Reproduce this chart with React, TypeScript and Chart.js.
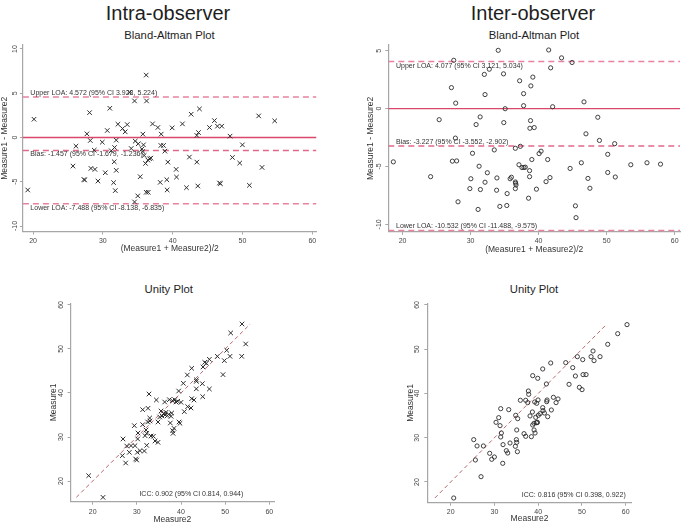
import React, { useEffect, useRef } from 'react';
import { Chart, registerables } from 'chart.js';

Chart.register(...registerables);

const FONT = "'Liberation Sans', Arial, Helvetica, sans-serif";

// ---------- Intra-observer Bland-Altman ----------
const intraBAMean = [19.24, 20.14, 25.72, 26.15, 27.39, 27.3, 27.72, 28.1, 28.2, 28.29, 28.77, 28.87, 29.3, 29.92, 30.35, 30.63, 31.0, 31.2, 31.54, 31.63, 31.68, 31.78, 31.92, 31.92, 32.16, 32.82, 33.2, 33.49, 33.83, 34.06, 34.54, 34.54, 34.64, 35.0, 35.07, 35.35, 35.6, 35.73, 35.73, 35.82, 35.92, 36.11, 36.21, 36.26, 36.21, 36.5, 36.45, 36.69, 36.88, 37.12, 37.88, 38.36, 38.21, 38.31, 38.69, 38.88, 39.31, 39.16, 39.21, 39.93, 40.5, 40.55, 41.4, 41.98, 42.4, 42.65, 43.46, 43.46, 43.6, 43.7, 43.84, 45.27, 45.98, 46.41, 47.03, 46.7, 46.84, 48.22, 48.56, 49.6, 49.99, 50.99, 52.32, 52.8, 54.61];
const intraBADiff = [-5.93, 2.06, -3.23, -0.98, -4.8, -4.75, 0.41, 2.81, -0.34, -3.49, -1.43, -3.6, -4.92, -0.53, -3.98, 0.79, 3.3, -1.5, -5.1, -2.74, -1.13, -6.0, -0.3, -3.71, 1.5, 1.01, 0.64, 1.46, 5.1, -1.24, 4.13, -7.28, -0.41, -6.6, -0.71, -4.43, -1.31, -1.58, 0.38, -0.83, -2.03, -2.93, 7.05, 4.13, -6.19, -6.19, -2.55, -2.4, -2.33, 1.54, 1.13, 0.38, -5.07, -0.9, -0.9, -1.54, -2.78, -4.77, -5.93, 1.09, -3.6, -4.47, 1.54, -5.67, -2.21, 2.63, 0.23, -2.78, -5.48, 0.56, 3.23, 1.13, 1.91, 1.28, 1.28, -5.14, -5.22, 0.15, -2.25, -2.89, -0.83, -5.4, 2.44, -3.38, 1.88];
// [estimate, CI low, CI high]
const intraUpperLOA = [4.572, 3.928, 5.224];
const intraBias = [-1.457, -1.679, -1.236];
const intraLowerLOA = [-7.488, -8.138, -6.835];

// ---------- Inter-observer Bland-Altman ----------
const interBAMean = [18.64, 24.12, 25.38, 27.18, 27.52, 27.32, 27.95, 27.81, 27.76, 28.15, 29.89, 30.04, 30.28, 30.81, 31.1, 31.25, 31.4, 31.44, 32.02, 32.12, 32.12, 32.46, 32.75, 33.48, 33.87, 33.82, 34.06, 34.3, 34.84, 34.88, 35.08, 35.32, 35.37, 35.81, 36.0, 36.58, 36.58, 36.62, 36.68, 36.58, 37.21, 37.11, 37.31, 37.55, 37.79, 37.79, 37.84, 38.04, 38.52, 38.67, 38.67, 38.72, 38.81, 38.86, 39.0, 39.15, 39.35, 39.68, 40.07, 40.36, 41.09, 41.33, 41.48, 41.67, 41.77, 42.06, 43.37, 44.63, 44.92, 45.41, 45.5, 46.28, 46.67, 46.96, 47.25, 47.54, 48.7, 48.94, 50.16, 50.16, 51.18, 51.27, 53.55, 55.93, 57.92];
const interBADiff = [-4.6, -5.88, -0.96, 1.81, 4.17, -4.54, -4.52, 0.47, -2.55, -8.05, -6.91, -6.06, -3.86, -1.38, -8.71, -4.98, -0.72, -6.99, 2.95, 1.21, -6.36, -5.54, 3.4, -3.57, -5.99, -7.05, 5.03, -8.45, 3.0, -1.21, -0.01, -8.37, -7.34, -6.06, -5.93, -3.43, -6.34, -6.45, -6.6, -6.91, 2.4, -4.85, -3.26, -5.09, 1.29, 0.25, -5.09, -5.06, -7.74, -5.36, -5.88, -1.7, -1.04, 1.96, -4.4, 2.72, -1.64, -6.96, -3.89, -3.68, -6.31, -4.4, 5.06, -5.96, 3.52, 0.16, 4.38, -5.17, 3.98, -8.4, -9.42, -4.68, 0.58, -2.18, -6.03, -6.88, -0.75, -2.75, -3.95, -5.52, -3.03, -5.91, -4.85, -4.68, -4.8];
const interUpperLOA = [4.077, 3.121, 5.034];
const interBias = [-3.227, -3.552, -2.902];
const interLowerLOA = [-10.532, -11.488, -9.575];

// ---------- Intra-observer unity ----------
const intraM2 = [19.09, 22.34, 26.72, 26.87, 27.47, 27.7, 28.3, 28.68, 29.43, 29.58, 29.74, 29.96, 30.11, 30.19, 30.26, 30.72, 31.32, 31.32, 31.7, 31.85, 32.08, 32.23, 32.23, 32.45, 32.53, 32.75, 32.91, 32.98, 33.21, 33.74, 34.11, 34.42, 34.79, 34.79, 35.17, 35.47, 35.7, 36.08, 36.3, 36.38, 36.6, 36.91, 37.21, 37.36, 37.58, 37.74, 37.89, 38.04, 38.11, 38.19, 38.42, 38.57, 38.87, 39.25, 39.47, 39.55, 39.77, 40.0, 40.53, 40.75, 41.43, 41.5, 42.26, 42.42, 42.42, 42.94, 43.47, 43.47, 43.47, 44.83, 44.91, 44.98, 45.36, 45.74, 46.42, 46.42, 48.23, 49.51, 49.81, 50.34, 51.09, 51.25, 53.74, 53.81, 54.64];
const intraM1 = [21.21, 16.29, 25.76, 29.55, 24.09, 27.95, 26.52, 28.03, 32.58, 28.03, 25.0, 24.77, 26.52, 29.55, 30.91, 26.89, 32.8, 36.21, 26.82, 30.3, 31.59, 28.1, 30.83, 33.41, 36.52, 39.77, 34.32, 33.64, 30.23, 30.15, 29.09, 38.41, 28.79, 33.41, 34.55, 35.91, 34.77, 35.38, 37.95, 35.0, 35.61, 34.85, 35.15, 38.48, 33.18, 34.7, 35.45, 38.26, 31.44, 30.83, 31.97, 38.48, 37.95, 38.11, 40.45, 33.41, 33.11, 37.88, 42.2, 35.76, 44.09, 36.89, 36.59, 45.61, 38.71, 38.41, 42.64, 43.0, 40.94, 42.12, 39.17, 45.91, 46.97, 46.74, 47.65, 40.91, 48.33, 44.17, 47.35, 49.7, 48.33, 53.64, 48.33, 55.68, 51.14];
const intraICC = [0.902, 0.814, 0.944];

// ---------- Inter-observer unity ----------
const interM2 = [20.69, 25.26, 25.64, 26.02, 26.93, 27.47, 28.91, 29.37, 29.98, 30.36, 30.97, 31.28, 31.43, 31.43, 31.58, 31.89, 31.96, 32.72, 33.03, 33.26, 33.56, 34.86, 35.01, 35.09, 35.09, 35.24, 35.31, 34.78, 35.92, 36.76, 37.14, 37.14, 37.6, 37.75, 37.83, 38.13, 38.44, 38.67, 38.74, 38.74, 39.05, 39.05, 39.2, 39.28, 39.43, 39.58, 39.73, 39.66, 39.89, 39.81, 39.96, 40.04, 40.42, 41.03, 41.03, 41.1, 41.41, 41.87, 41.94, 42.02, 42.17, 42.86, 43.01, 43.47, 44.08, 44.53, 46.29, 47.05, 47.89, 48.5, 48.95, 49.41, 50.02, 50.17, 50.25, 50.93, 52.08, 52.53, 52.76, 54.13, 55.89, 58.17, 60.3];
const interM1 = [16.38, 29.57, 24.97, 28.14, 21.2, 28.14, 26.48, 25.12, 25.65, 33.48, 34.54, 32.73, 36.57, 30.17, 31.07, 24.22, 28.44, 27.08, 26.55, 36.35, 28.81, 35.07, 29.57, 31.75, 28.96, 26.85, 34.31, 28.06, 38.46, 30.92, 30.32, 38.46, 37.93, 40.56, 39.81, 34.92, 30.24, 35.82, 44.03, 32.88, 31.75, 33.26, 38.08, 31.07, 34.61, 33.41, 33.41, 37.78, 43.43, 33.48, 38.53, 35.07, 35.44, 45.54, 36.8, 36.12, 35.59, 42.15, 38.15, 38.53, 34.76, 46.89, 36.27, 39.13, 37.93, 38.76, 46.97, 42.07, 45.84, 43.95, 48.32, 41.39, 40.87, 47.65, 44.26, 44.26, 48.32, 49.6, 47.42, 48.32, 51.11, 53.52, 55.56];
const interICC = [0.816, 0.398, 0.922];

const baTicksIntraY = [-10, -5, 0, 5, 10];
const baTicksInterY = [-10, -5, 0, 5];
const axisTicks = [20, 30, 40, 50, 60];
const unityTicksY = [20, 30, 40, 50, 60];

const AXIS = '#a6a6a6';
const TICK_COLOR = '#454545';
const MARK = '#2e2e2e';
const ZERO_COL = '#d9486b';
const BIAS_COL = '#e0688a';
const LOA_COL = '#e8829f';
const UNITY_COL = '#b9676a';

const fmt = (v: number) => v.toFixed(3);

type TextItem = { text: string; x: number; y: number; dy: number; align: CanvasTextAlign };

type PanelCfg = {
  left: number; top: number; w: number; h: number;
  padding: { left: number; top: number; right: number; bottom: number };
  yWidth: number; xHeight: number;
  xMin: number; xMax: number; yMin: number; yMax: number;
  xTicks: number[]; yTicks: number[];
  yTickPad: number; xTickPad: number; xTitlePad: number; yTitlePad: number;
  xTitle: string; yTitle: string;
  datasets: any[];
  texts: TextItem[];
};

function makeTextPlugin(items: TextItem[]) {
  return {
    id: 'panelText',
    afterDatasetsDraw(chart: any) {
      const { ctx } = chart;
      const xs = chart.scales.x;
      const ys = chart.scales.y;
      ctx.save();
      ctx.font = `7px ${FONT}`;
      ctx.fillStyle = '#333';
      ctx.textBaseline = 'middle';
      for (const t of items) {
        ctx.textAlign = t.align;
        ctx.fillText(t.text, xs.getPixelForValue(t.x), ys.getPixelForValue(t.y) + t.dy);
      }
      ctx.restore();
    },
  };
}

function pts(xs: number[], ys: number[]) {
  return xs.map((x, i) => ({ x, y: ys[i] }));
}

function hline(v: number, x0: number, x1: number, color: string, dash: number[], width: number) {
  return {
    data: [{ x: x0, y: v }, { x: x1, y: v }],
    showLine: true, borderColor: color, borderWidth: width, borderDash: dash,
    pointRadius: 0, fill: false,
  };
}

function markers(data: any[], style: string) {
  return style === 'x'
    ? { data, showLine: false, pointStyle: 'crossRot', pointRadius: 3.2, borderColor: MARK, borderWidth: 1, backgroundColor: 'transparent' }
    : { data, showLine: false, pointStyle: 'circle', pointRadius: 2.1, borderColor: MARK, borderWidth: 0.9, backgroundColor: 'transparent' };
}

function buildConfig(c: PanelCfg) {
  return {
    type: 'scatter',
    data: { datasets: c.datasets },
    options: {
      animation: false,
      responsive: false,
      events: [],
      layout: { padding: c.padding },
      plugins: { legend: { display: false }, tooltip: { enabled: false }, title: { display: false } },
      scales: {
        x: {
          type: 'linear', min: c.xMin, max: c.xMax, bounds: 'data',
          afterBuildTicks: (s: any) => { s.ticks = c.xTicks.map((v) => ({ value: v })); },
          afterFit: (s: any) => { s.height = c.xHeight; s.paddingLeft = 0; s.paddingRight = 0; },
          grid: { drawOnChartArea: false, drawTicks: true, tickLength: 3, color: AXIS, lineWidth: 1 },
          border: { display: true, color: AXIS, width: 1.2 },
          ticks: { font: { family: FONT, size: 7 }, color: TICK_COLOR, padding: c.xTickPad, maxRotation: 0, autoSkip: false },
          title: { display: true, text: c.xTitle, font: { family: FONT, size: 8.5 }, color: '#333', padding: { top: 0, bottom: c.xTitlePad } },
        },
        y: {
          type: 'linear', min: c.yMin, max: c.yMax, bounds: 'data',
          afterBuildTicks: (s: any) => { s.ticks = c.yTicks.map((v) => ({ value: v })); },
          afterFit: (s: any) => { s.width = c.yWidth; s.paddingTop = 0; s.paddingBottom = 0; },
          grid: { drawOnChartArea: false, drawTicks: true, tickLength: 3, color: AXIS, lineWidth: 1 },
          border: { display: true, color: AXIS, width: 1.2 },
          ticks: { font: { family: FONT, size: 7 }, color: TICK_COLOR, padding: c.yTickPad, minRotation: 90, maxRotation: 90, crossAlign: 'center', autoSkip: false },
          title: { display: true, text: c.yTitle, font: { family: FONT, size: 8.5 }, color: '#333', padding: { top: c.yTitlePad, bottom: 0 } },
        },
      },
    },
    plugins: [makeTextPlugin(c.texts)],
  };
}

function baDatasets(mean: number[], diff: number[], up: number[], bias: number[], low: number[], x0: number, x1: number, style: string) {
  return [
    markers(pts(mean, diff), style),
    hline(0, x0, x1, ZERO_COL, [], 1.3),
    hline(bias[0], x0, x1, BIAS_COL, [6, 4], 1.5),
    hline(up[0], x0, x1, LOA_COL, [6, 4], 1.5),
    hline(low[0], x0, x1, LOA_COL, [6, 4], 1.5),
  ];
}

function unityDatasets(m2: number[], m1: number[], style: string) {
  const lo = Math.min(...m1);
  const hi = Math.max(...m1);
  return [
    markers(pts(m2, m1), style),
    { data: [{ x: lo, y: lo }, { x: hi, y: hi }], showLine: true, borderColor: UNITY_COL, borderWidth: 1, borderDash: [4, 3], pointRadius: 0, fill: false },
  ];
}

const panels: PanelCfg[] = [
  {
    left: 0, top: 40, w: 330, h: 220,
    padding: { left: 0, top: 5, right: 13.5, bottom: 0 },
    yWidth: 22.9, xHeight: 28.5,
    xMin: 18.55, xMax: 60.6, yMin: -10.62, yMax: 10.45,
    xTicks: axisTicks, yTicks: baTicksIntraY,
    yTickPad: 0, xTickPad: 2, xTitlePad: 6.6, yTitlePad: 0,
    xTitle: '(Measure1 + Measure2)/2', yTitle: 'Measure1 - Measure2',
    datasets: baDatasets(intraBAMean, intraBADiff, intraUpperLOA, intraBias, intraLowerLOA, 18.55, 60.6, 'x'),
    texts: [
      { text: `Upper LOA: ${fmt(intraUpperLOA[0])} (95% CI ${fmt(intraUpperLOA[1])}, ${fmt(intraUpperLOA[2])})`, x: 19.62, y: intraUpperLOA[0], dy: -4.4, align: 'left' },
      { text: `Bias: ${fmt(intraBias[0])} (95% CI ${fmt(intraBias[1])}, ${fmt(intraBias[2])})`, x: 19.62, y: intraBias[0], dy: 4, align: 'left' },
      { text: `Lower LOA: ${fmt(intraLowerLOA[0])} (95% CI ${fmt(intraLowerLOA[1])}, ${fmt(intraLowerLOA[2])})`, x: 19.62, y: intraLowerLOA[0], dy: 4, align: 'left' },
    ],
  },
  {
    left: 340, top: 40, w: 345, h: 220,
    padding: { left: 25.9, top: 3.2, right: 1.8, bottom: 0 },
    yWidth: 22.4, xHeight: 28.1,
    xMin: 17.9, xMax: 60.8, yMin: -10.65, yMax: 5.5,
    xTicks: axisTicks, yTicks: baTicksInterY,
    yTickPad: 1.2, xTickPad: 1.6, xTitlePad: 5.6, yTitlePad: 0,
    xTitle: '(Measure1 + Measure2)/2', yTitle: 'Measure1 - Measure2',
    datasets: baDatasets(interBAMean, interBADiff, interUpperLOA, interBias, interLowerLOA, 17.9, 60.8, 'o'),
    texts: [
      { text: `Upper LOA: ${fmt(interUpperLOA[0])} (95% CI ${fmt(interUpperLOA[1])}, ${fmt(interUpperLOA[2])})`, x: 19.03, y: interUpperLOA[0], dy: 4.6, align: 'left' },
      { text: `Bias: ${fmt(interBias[0])} (95% CI ${fmt(interBias[1])}, ${fmt(interBias[2])})`, x: 19.03, y: interBias[0], dy: -3.6, align: 'left' },
      { text: `Lower LOA: ${fmt(interLowerLOA[0])} (95% CI ${fmt(interLowerLOA[1])}, ${fmt(interLowerLOA[2])})`, x: 19.03, y: interLowerLOA[0], dy: -4, align: 'left' },
    ],
  },
  {
    left: 0, top: 280, w: 330, h: 250,
    padding: { left: 48.2, top: 23.2, right: 55.8, bottom: 0 },
    yWidth: 22.4, xHeight: 28.3,
    xMin: 15.0, xMax: 61.1, yMin: 15.3, yMax: 60.4,
    xTicks: axisTicks, yTicks: unityTicksY,
    yTickPad: 2.7, xTickPad: 2.8, xTitlePad: 5.6, yTitlePad: 0,
    xTitle: 'Measure2', yTitle: 'Measure1',
    datasets: unityDatasets(intraM2, intraM1, 'x'),
    texts: [
      { text: `ICC: ${fmt(intraICC[0])} (95% CI ${fmt(intraICC[1])}, ${fmt(intraICC[2])})`, x: 54.1, y: 16.98, dy: 0, align: 'right' },
    ],
  },
  {
    left: 340, top: 280, w: 345, h: 250,
    padding: { left: 65.6, top: 23.2, right: 53.3, bottom: 0 },
    yWidth: 21.7, xHeight: 27.3,
    xMin: 14.65, xMax: 61.37, yMin: 15.32, yMax: 60.4,
    xTicks: axisTicks, yTicks: unityTicksY,
    yTickPad: 3.1, xTickPad: 1.8, xTitlePad: 5.9, yTitlePad: 0,
    xTitle: 'Measure2', yTitle: 'Measure1',
    datasets: unityDatasets(interM2, interM1, 'o'),
    texts: [
      { text: `ICC: ${fmt(interICC[0])} (95% CI ${fmt(interICC[1])}, ${fmt(interICC[2])})`, x: 60, y: 17, dy: 0, align: 'right' },
    ],
  },
];

const headings = [
  { text: 'Intra-observer', cx: 168, cy: 13, size: 20 },
  { text: 'Inter-observer', cx: 533, cy: 12.5, size: 20 },
  { text: 'Bland-Altman Plot', cx: 169.5, cy: 35.5, size: 11.3 },
  { text: 'Bland-Altman Plot', cx: 534, cy: 35.5, size: 11.3 },
  { text: 'Unity Plot', cx: 168.7, cy: 289.5, size: 11.3 },
  { text: 'Unity Plot', cx: 534, cy: 290, size: 11.3 },
];

function Panel({ cfg }: { cfg: PanelCfg }) {
  const ref = useRef<HTMLCanvasElement | null>(null);
  useEffect(() => {
    if (!ref.current) return;
    const chart = new Chart(ref.current, buildConfig(cfg) as any);
    return () => chart.destroy();
  }, [cfg]);
  return (
    <canvas
      ref={ref}
      width={cfg.w}
      height={cfg.h}
      style={{ position: 'absolute', left: cfg.left, top: cfg.top, width: cfg.w, height: cfg.h }}
    />
  );
}

export default function App() {
  return (
    <div style={{ position: 'absolute', left: 0, top: 0, width: 685, height: 524, overflow: 'hidden', background: '#fff' }}>
      {headings.map((h, i) => (
        <div
          key={i}
          style={{
            position: 'absolute', left: h.cx - 150, top: h.cy - h.size / 2, width: 300,
            textAlign: 'center', fontFamily: FONT, fontSize: h.size, lineHeight: `${h.size}px`,
            color: '#1e1e1e', whiteSpace: 'nowrap',
          }}
        >
          {h.text}
        </div>
      ))}
      {panels.map((p, i) => <Panel key={i} cfg={p} />)}
    </div>
  );
}
